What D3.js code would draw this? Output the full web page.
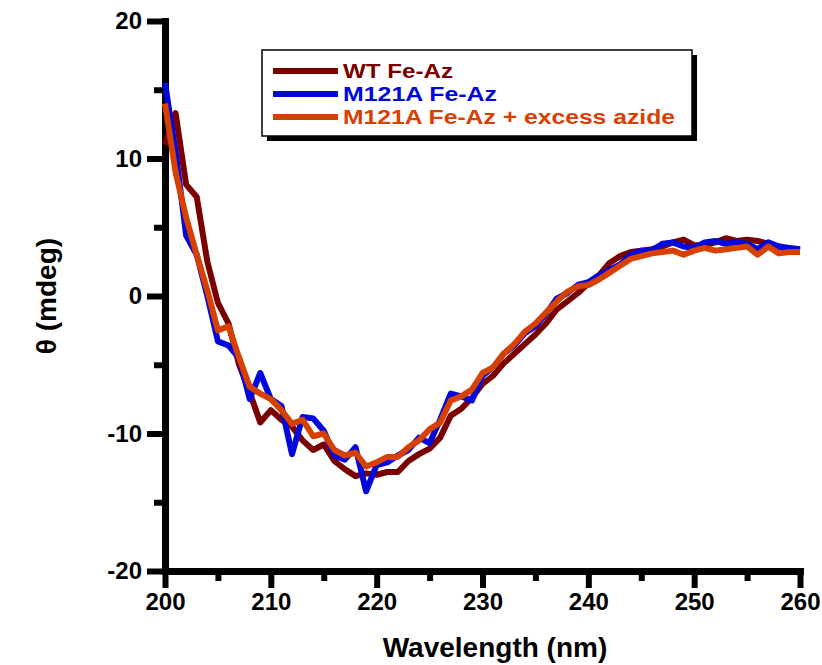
<!DOCTYPE html>
<meta charset="utf-8">
<style>
body { margin: 0; background: #fff; }
text { font-family: "Liberation Sans", Arial, sans-serif; font-weight: bold; }
.domain { stroke: #000; stroke-width: 7px; stroke-linecap: square; }
.tick line { stroke: #000; stroke-width: 6px; }
.tick text { font-size: 24px; fill: #000; }
.curve { fill: none; stroke-width: 6px; stroke-linejoin: round; }
</style>
<body>
<script src="https://d3js.org/d3.v7.min.js"></script>
<script>
// wavelength (nm), 1 nm steps
var wavelength = d3.range(200, 261);

var wt = [11.0, 13.3, 8.1, 7.2, 2.5, -0.5, -2.0, -5.0, -7.0, -9.2,
  -8.3, -9.0, -9.5, -10.5, -11.2, -10.8, -12.0, -12.6, -13.1, -12.9,
  -13.0, -12.8, -12.8, -12.0, -11.5, -11.1, -10.3, -8.7, -8.2, -7.4,
  -6.4, -5.8, -4.9, -4.2, -3.5, -2.8, -2.0, -1.0, -0.4, 0.2,
  0.9, 1.5, 2.4, 2.9, 3.2, 3.3, 3.4, 3.6, 3.9, 4.1,
  3.7, 3.7, 3.9, 4.2, 4.0, 4.1, 4.0, 3.8, 3.6, 3.4, 3.3];

var m121a = [15.5, 10.5, 4.4, 3.0, 0.0, -3.3, -3.6, -4.5, -7.5, -5.6,
  -7.5, -8.0, -11.5, -8.8, -8.9, -9.8, -11.6, -11.9, -11.0, -14.2,
  -12.3, -12.1, -11.6, -11.2, -10.3, -10.7, -9.0, -7.1, -7.3, -7.6,
  -5.8, -5.2, -4.2, -3.6, -2.7, -2.2, -1.3, -0.2, 0.2, 0.8,
  1.0, 1.5, 1.9, 2.3, 3.0, 3.3, 3.3, 3.8, 3.9, 3.6,
  3.5, 3.9, 4.0, 3.8, 3.9, 3.8, 3.4, 3.9, 3.6, 3.5, 3.4];

var m121aAzide = [14.0, 9.0, 5.7, 3.0, 0.4, -2.5, -2.2, -4.5, -6.6, -7.1,
  -7.5, -8.3, -9.3, -9.0, -10.2, -10.0, -11.2, -11.6, -11.4, -12.4,
  -12.1, -11.7, -11.7, -11.0, -10.5, -9.7, -9.2, -7.6, -7.3, -6.8,
  -5.6, -5.2, -4.2, -3.5, -2.6, -2.0, -1.2, -0.4, 0.3, 0.7,
  0.8, 1.2, 1.7, 2.2, 2.7, 2.9, 3.1, 3.2, 3.3, 3.0,
  3.3, 3.5, 3.3, 3.4, 3.5, 3.6, 3.0, 3.6, 3.1, 3.2, 3.2];

var seriesNames = ["WT Fe-Az", "M121A Fe-Az", "M121A Fe-Az + excess azide"];
var seriesColors = ["#7a0000", "#0008dc", "#d84000"];
var seriesValues = [wt, m121a, m121aAzide];

var xMajor = [200, 210, 220, 230, 240, 250, 260],
    xMinor = [205, 215, 225, 235, 245, 255],
    yMajor = [-20, -10, 0, 10, 20],
    yMinor = [-15, -5, 5, 15];

var width = 822, height = 665;

var svg = d3.select("body").append("svg")
    .attr("width", width)
    .attr("height", height);

var x = d3.scaleLinear().domain([200, 260]).range([165, 800]);
var y = d3.scaleLinear().domain([-20, 20]).range([571, 21]);

// plain hyphen for negatives, like the original
var fmt = function(d) { return String(d); };

// minor ticks first
svg.append("g")
    .attr("transform", "translate(0," + y(-20) + ")")
    .call(d3.axisBottom(x).tickValues(xMinor).tickSize(10).tickFormat(""))
    .select(".domain").remove();
svg.append("g")
    .attr("transform", "translate(" + x(200) + ",0)")
    .call(d3.axisLeft(y).tickValues(yMinor).tickSize(11).tickFormat(""))
    .select(".domain").remove();

svg.append("g")
    .attr("transform", "translate(0," + y(-20) + ")")
    .call(d3.axisBottom(x).tickValues(xMajor).tickSize(17).tickSizeOuter(0).tickPadding(5).tickFormat(fmt));

svg.append("g")
    .attr("transform", "translate(" + x(200) + ",0)")
    .call(d3.axisLeft(y).tickValues(yMajor).tickSize(18).tickSizeOuter(0).tickPadding(5).tickFormat(fmt));

svg.selectAll(".domain").attr("fill", "none");

// curves
var line = d3.line()
    .x(function(d, i) { return x(wavelength[i]); })
    .y(function(d) { return y(d); });

svg.selectAll(".curve")
    .data(seriesValues)
  .enter().append("path")
    .attr("class", "curve")
    .attr("stroke", function(d, i) { return seriesColors[i]; })
    .attr("d", line);

// axis titles
svg.append("text")
    .attr("x", 495)
    .attr("y", 657)
    .attr("text-anchor", "middle")
    .style("font-size", "28px")
    .text("Wavelength (nm)");

svg.append("text")
    .attr("transform", "translate(56,296)rotate(-90)")
    .attr("text-anchor", "middle")
    .style("font-size", "28px")
    .text("\u03b8 (mdeg)");

// legend
var legend = svg.append("g");
legend.append("rect")
    .attr("x", 267).attr("y", 55)
    .attr("width", 430).attr("height", 86)
    .attr("fill", "#000");
legend.append("rect")
    .attr("x", 262).attr("y", 50)
    .attr("width", 430).attr("height", 86)
    .attr("fill", "#fff")
    .attr("stroke", "#000")
    .attr("stroke-width", 1.5);

var textLengths = [110, 154, 332];
var rows = legend.selectAll(".row")
    .data(seriesNames)
  .enter().append("g")
    .attr("transform", function(d, i) { return "translate(0," + (71 + i * 23) + ")"; });

rows.append("line")
    .attr("x1", 273).attr("x2", 338)
    .attr("stroke", function(d, i) { return seriesColors[i]; })
    .attr("stroke-width", 6);

rows.append("text")
    .attr("x", 343)
    .attr("y", 7)
    .attr("fill", function(d, i) { return seriesColors[i]; })
    .attr("textLength", function(d, i) { return textLengths[i]; })
    .attr("lengthAdjust", "spacingAndGlyphs")
    .style("font-size", "20px")
    .text(function(d) { return d; });
</script>
